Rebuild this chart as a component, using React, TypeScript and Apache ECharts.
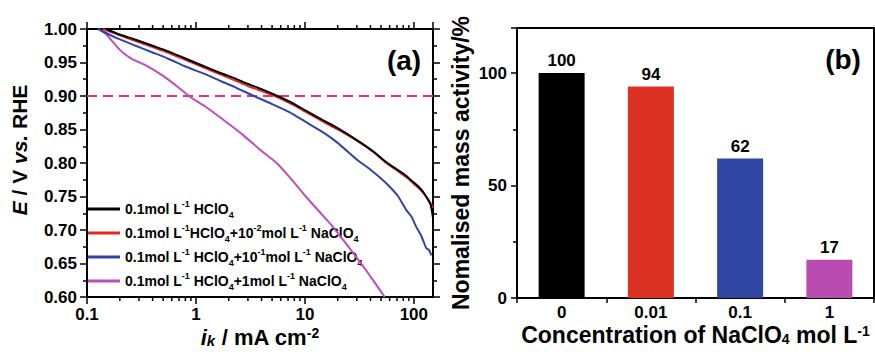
import React, { useEffect, useRef } from "react";
import * as echarts from "echarts";

// ---------- data ----------
const seriesNames = [
  "0.1mol L-1 HClO4",
  "0.1mol L-1HClO4+10-2mol L-1 NaClO4",
  "0.1mol L-1 HClO4+10-1mol L-1 NaClO4",
  "0.1mol L-1 HClO4+1mol L-1 NaClO4",
];
const legendRich = [
  "0.1mol L{sup|-1} HClO{sub|4}",
  "0.1mol L{sup|-1}HClO{sub|4}+10{sup|-2}mol L{sup|-1} NaClO{sub|4}",
  "0.1mol L{sup|-1} HClO{sub|4}+10{sup|-1}mol L{sup|-1} NaClO{sub|4}",
  "0.1mol L{sup|-1} HClO{sub|4}+1mol L{sup|-1} NaClO{sub|4}",
];
const lineColors = ["#000000", "#e8261c", "#3343a8", "#c04cc0"];

// current density (mA cm-2) and potential (V vs RHE)
const hclo4I = [0.15, 0.19, 0.28, 0.4, 0.55, 0.8, 1.2, 1.7, 2.3, 3.0, 3.9, 5.6, 8, 10, 14.6, 20, 29.5, 42, 56, 69, 85, 98, 110, 121.6, 135, 143, 150];
const hclo4E = [1.0, 0.993, 0.984, 0.975, 0.967, 0.956, 0.944, 0.934, 0.926, 0.918, 0.911, 0.9, 0.888, 0.879, 0.864, 0.852, 0.835, 0.818, 0.801, 0.791, 0.781, 0.772, 0.765, 0.757, 0.745, 0.737, 0.718];

const na001I = [0.14, 0.19, 0.28, 0.4, 0.55, 0.8, 1.2, 1.7, 2.3, 3.0, 3.9, 5.3, 8, 10, 14.6, 20, 29.5, 42, 56, 70, 85, 100, 115, 130, 140, 150];
const na001E = [1.0, 0.992, 0.982, 0.973, 0.965, 0.954, 0.942, 0.932, 0.923, 0.915, 0.908, 0.9, 0.886, 0.877, 0.862, 0.85, 0.834, 0.817, 0.8, 0.789, 0.779, 0.769, 0.76, 0.75, 0.742, 0.733];

const na01I = [0.127, 0.15, 0.19, 0.28, 0.4, 0.55, 0.8, 1.2, 1.7, 2.3, 3.4, 5, 7.2, 10, 14.6, 20, 29.5, 40, 50, 59.8, 72, 85, 95, 105, 118, 130, 138, 145];
const na01E = [1.0, 0.994, 0.986, 0.975, 0.965, 0.956, 0.944, 0.933, 0.922, 0.913, 0.9, 0.888, 0.876, 0.862, 0.846, 0.83, 0.806, 0.79, 0.777, 0.765, 0.75, 0.73, 0.72, 0.705, 0.69, 0.673, 0.67, 0.662];

const na1I = [0.127, 0.15, 0.17, 0.194, 0.22, 0.26, 0.343, 0.5, 0.7, 0.86, 1.2, 1.87, 2.7, 3.93, 5.5, 7.5, 10.2, 14, 18, 23, 29.5, 36, 44, 54];
const na1E = [1.0, 0.992, 0.982, 0.971, 0.963, 0.955, 0.946, 0.93, 0.912, 0.9, 0.885, 0.862, 0.842, 0.819, 0.8, 0.776, 0.75, 0.725, 0.705, 0.683, 0.66, 0.641, 0.621, 0.6];

const curvesI = [hclo4I, na001I, na01I, na1I];
const curvesE = [hclo4E, na001E, na01E, na1E];

const refPotential = 0.9;

// bar chart
const barCategories = ["0", "0.01", "0.1", "1"];
const barValues = [100, 94, 62, 17];
const barColors = ["#000000", "#dc3224", "#3146a2", "#b84cb0"];

// log-axis minor tick positions
const xMinorTicks = [0.2, 0.3, 0.4, 0.5, 0.6, 0.7, 0.8, 0.9, 2, 3, 4, 5, 6, 7, 8, 9, 20, 30, 40, 50, 60, 70, 80, 90];

const FONT = "'Liberation Sans', Arial, sans-serif";

export default function App() {
  const ref = useRef<HTMLDivElement>(null);
  useEffect(() => {
    if (!ref.current) return;
    const chart = echarts.init(ref.current, null, { renderer: "svg" });
    const axisLine = { show: true, lineStyle: { color: "#000", width: 2 } };
    const tickLabel = { fontSize: 17, fontWeight: "bold", color: "#000", fontFamily: FONT };

    const lineSeries: any[] = seriesNames.map((name, k) => ({
      type: "line",
      name,
      xAxisIndex: 0,
      yAxisIndex: 0,
      data: curvesI[k].map((x, i) => [x, curvesE[k][i]]),
      showSymbol: false,
      symbol: "none",
      smooth: 0.2,
      lineStyle: { color: lineColors[k], width: 2 },
      itemStyle: { color: lineColors[k] },
      z: 10 - k,
      markLine:
        k === 0
          ? {
              silent: true,
              symbol: ["none", "none"],
              label: { show: false },
              lineStyle: { color: "#ec2f7b", type: [10, 6], width: 2 },
              data: [{ yAxis: refPotential }],
            }
          : undefined,
    }));

    const option: any = {
      animation: false,
      textStyle: { fontFamily: FONT },
      grid: [
        { left: 87, top: 29, width: 346, height: 268, show: true, borderColor: "#000", borderWidth: 2, outerBoundsMode: "none", containLabel: false },
        { left: 517, top: 28, width: 357, height: 270, show: true, borderColor: "#000", borderWidth: 2, outerBoundsMode: "none", containLabel: false },
      ],
      legend: {
        orient: "vertical",
        left: 88,
        top: 199,
        padding: 0,
        itemGap: 4,
        itemWidth: 32,
        itemHeight: 3,
        icon: "rect",
        selectedMode: false,
        data: seriesNames,
        formatter: (name: string) => legendRich[seriesNames.indexOf(name)],
        textStyle: {
          fontSize: 14,
          fontWeight: "bold",
          color: "#000",
          fontFamily: FONT,
          lineHeight: 20,
          rich: {
            sup: { fontSize: 9, fontWeight: "bold", color: "#000", fontFamily: FONT, verticalAlign: "top", lineHeight: 11 },
            sub: { fontSize: 9, fontWeight: "bold", color: "#000", fontFamily: FONT, verticalAlign: "bottom", lineHeight: 9 },
          },
        },
      },
      xAxis: [
        {
          type: "log",
          gridIndex: 0,
          min: 0.1,
          max: 150,
          logBase: 10,
          position: "bottom",
          axisLine,
          axisTick: { show: true, length: 7, lineStyle: { width: 1.5, color: "#000" } },
          splitLine: { show: false },
          axisLabel: {
            ...tickLabel,
            margin: 9,
            showMaxLabel: false,
            formatter: (v: number) => (v < 0.5 ? "0.1" : String(Math.round(v))),
          },
          name: "{i|i}{ik|k} / mA cm{sup|-2}",
          nameLocation: "middle",
          nameGap: 29,
          nameMoveOverlap: false,
          nameTextStyle: {
            fontSize: 22,
            fontWeight: "bold",
            color: "#000",
            fontFamily: FONT,
            lineHeight: 22,
            rich: {
              i: { fontSize: 22, fontWeight: "bold", fontStyle: "italic", fontFamily: FONT, color: "#000" },
              ik: { fontSize: 15, fontWeight: "bold", fontStyle: "italic", fontFamily: FONT, color: "#000", verticalAlign: "bottom", lineHeight: 12 },
              sup: { fontSize: 14, fontWeight: "bold", fontFamily: FONT, color: "#000", verticalAlign: "top", lineHeight: 12 },
            },
          },
        },
        {
          type: "log",
          gridIndex: 0,
          min: 0.1,
          max: 150,
          logBase: 10,
          position: "top",
          axisLine,
          axisTick: { show: true, length: 7, lineStyle: { width: 1.5, color: "#000" } },
          splitLine: { show: false },
          axisLabel: { show: false },
        },
        {
          type: "category",
          gridIndex: 1,
          data: barCategories,
          axisLine,
          axisTick: { show: true, length: 5, lineStyle: { width: 1.5, color: "#000" } },
          axisLabel: { ...tickLabel, margin: 6, lineHeight: 16 },
          name: "Concentration of NaClO{sub|4} mol L{sup|-1}",
          nameLocation: "middle",
          nameGap: 26,
          nameMoveOverlap: false,
          nameTextStyle: {
            fontSize: 23,
            fontWeight: "bold",
            color: "#000",
            fontFamily: FONT,
            lineHeight: 22,
            rich: {
              sub: { fontSize: 14, fontWeight: "bold", fontFamily: FONT, color: "#000", verticalAlign: "bottom", lineHeight: 8 },
              sup: { fontSize: 14, fontWeight: "bold", fontFamily: FONT, color: "#000", verticalAlign: "top", lineHeight: 10 },
            },
          },
        },
      ],
      yAxis: [
        {
          type: "value",
          gridIndex: 0,
          min: 0.6,
          max: 1.0,
          interval: 0.05,
          position: "left",
          axisLine,
          axisTick: { show: true, length: 7, lineStyle: { width: 1.5, color: "#000" } },
          minorTick: { show: true, splitNumber: 2, length: 4, lineStyle: { width: 1.5, color: "#000" } },
          splitLine: { show: false },
          axisLabel: { ...tickLabel, margin: 10, formatter: (v: number) => v.toFixed(2) },
          name: "{i|E} / V {i|vs.} RHE",
          nameLocation: "middle",
          nameGap: 57,
          nameMoveOverlap: false,
          nameTextStyle: {
            fontSize: 21,
            fontWeight: "bold",
            color: "#000",
            fontFamily: FONT,
            padding: [0, 0, 0, 26],
            rich: {
              i: { fontSize: 21, fontWeight: "bold", fontStyle: "italic", fontFamily: FONT, color: "#000" },
            },
          },
        },
        {
          type: "value",
          gridIndex: 0,
          min: 0.6,
          max: 1.0,
          interval: 0.05,
          position: "right",
          axisLine,
          axisTick: { show: true, length: 7, lineStyle: { width: 1.5, color: "#000" } },
          minorTick: { show: true, splitNumber: 2, length: 4, lineStyle: { width: 1.5, color: "#000" } },
          splitLine: { show: false },
          axisLabel: { show: false },
        },
        {
          type: "value",
          gridIndex: 1,
          min: 0,
          max: 120,
          interval: 50,
          axisLine,
          axisTick: { show: true, length: 6, lineStyle: { width: 1.5, color: "#000" } },
          minorTick: { show: true, splitNumber: 2, length: 4, lineStyle: { width: 1.5, color: "#000" } },
          splitLine: { show: false },
          axisLabel: { ...tickLabel, margin: 10, formatter: (v: number) => (v % 50 === 0 ? String(v) : "") },
          name: "Nomalised mass activity/%",
          nameLocation: "middle",
          nameGap: 45,
          nameMoveOverlap: false,
          nameTextStyle: { fontSize: 23, fontWeight: "bold", color: "#000", fontFamily: FONT },
        },
      ],
      series: [
        ...lineSeries,
        {
          type: "custom",
          xAxisIndex: 0,
          yAxisIndex: 0,
          silent: true,
          clip: false,
          data: xMinorTicks.map((v) => [v, 0.6]),
          encode: { x: 0, y: 1 },
          renderItem: (_p: any, api: any) => {
            const b = api.coord([api.value(0), 0.6]);
            const t = api.coord([api.value(0), 1.0]);
            return {
              type: "group",
              children: [
                { type: "line", shape: { x1: b[0], y1: b[1], x2: b[0], y2: b[1] + 4 }, style: { stroke: "#000", lineWidth: 1.5 } },
                { type: "line", shape: { x1: t[0], y1: t[1], x2: t[0], y2: t[1] - 4 }, style: { stroke: "#000", lineWidth: 1.5 } },
              ],
            };
          },
        },
        {
          type: "bar",
          xAxisIndex: 2,
          yAxisIndex: 2,
          barWidth: 46,
          data: barValues.map((v, i) => ({ value: v, itemStyle: { color: barColors[i] } })),
          label: {
            show: true,
            position: "top",
            distance: 4,
            fontSize: 17,
            fontWeight: "bold",
            color: "#000",
            fontFamily: FONT,
          },
        },
      ],
      graphic: [
        {
          type: "text",
          x: 404,
          y: 60,
          style: { text: "(a)", fill: "#000", font: `bold 28px ${FONT}`, align: "center", verticalAlign: "middle" },
        },
        {
          type: "text",
          x: 843,
          y: 59,
          style: { text: "(b)", fill: "#000", font: `bold 28px ${FONT}`, align: "center", verticalAlign: "middle" },
        },
      ],
    };
    chart.setOption(option);
    return () => chart.dispose();
  }, []);
  return <div ref={ref} style={{ position: "absolute", left: 0, top: 0, width: 875, height: 352 }} />;
}
